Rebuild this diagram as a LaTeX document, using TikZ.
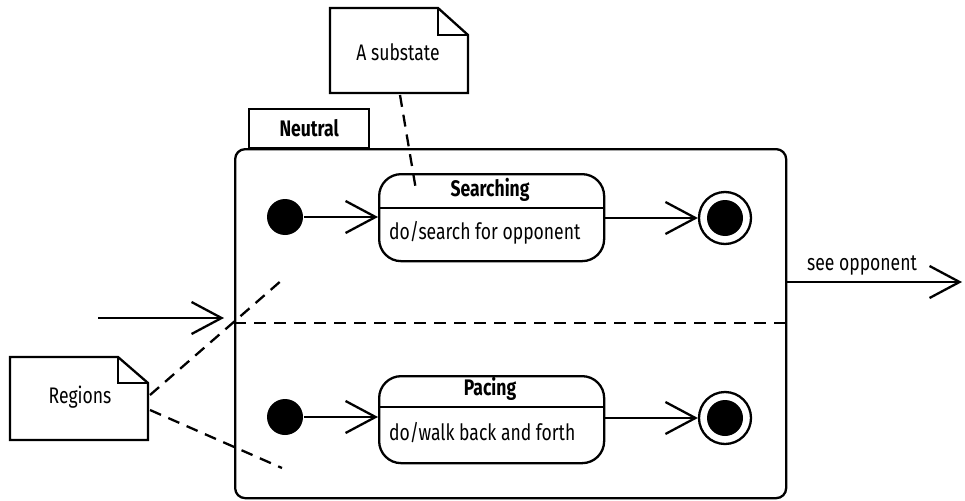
\documentclass[tikz,border=0pt]{standalone}
\usepackage{fontspec}
\setmainfont{Fira Sans}[FakeStretch=0.78]
\usetikzlibrary{arrows.meta}
\begin{document}
\begin{tikzpicture}[x=1pt,y=-1pt,
  line width=2.3pt,
  lbl/.style={inner sep=0pt, font=\fontsize{22.5}{24}\selectfont},
  blbl/.style={inner sep=0pt, font=\fontsize{22.5}{24}\selectfont\bfseries},
  stbox/.style={draw, rounded corners=22pt, minimum width=225pt, minimum height=87pt, inner sep=0pt},
  initst/.style={circle, fill, minimum size=36pt, inner sep=0pt},
  finst/.style={circle, draw, minimum size=52pt, inner sep=0pt},
  finin/.style={circle, fill, minimum size=36pt, inner sep=0pt},
  opentip/.style={-{Straight Barb[length=30pt,width=32pt,line width=2.3pt]}},
  dsh/.style={dash pattern=on 12pt off 8pt},
  notebox/.style={draw, line join=miter}
]
\useasboundingbox (0,0) rectangle (965,500);
% Neutral tab and main box
\node[draw, minimum width=120pt, minimum height=39pt, inner sep=0pt, anchor=north west, blbl] (tab) at (248,108) {Neutral};
\node[draw, rounded corners=10pt, minimum width=551pt, minimum height=349pt, inner sep=0pt, anchor=north west] (neutral) at (234,148) {};
\coordinate (divL) at (234,323);
\coordinate (divR) at (785,323);
\draw[dsh] (divL) -- (divR);

% Searching region
\node[stbox, anchor=north west] (search) at (378,173) {};
\draw (search.west |- 0,208) coordinate (sL) -- (search.east |- 0,208) coordinate (sR);
\node[blbl] (searchT) at (490,190) {Searching};
\node[lbl, anchor=west] (searchD) at (388,233) {do/search for opponent};
\node[initst] (i1) at (285,217) {};
\node[finst] (f1) at (725,218) {};
\node[finin] (f1i) at (f1) {};
\draw[opentip] (i1) -- (search.west |- i1);
\draw[opentip] (search.east |- f1) -- (f1.west);

% Pacing region
\node[stbox, anchor=north west] (pacing) at (378,375) {};
\draw (pacing.west |- 0,407) coordinate (pL) -- (pacing.east |- 0,407) coordinate (pR);
\node[blbl] (pacingT) at (490,389) {Pacing};
\node[lbl, anchor=west] (pacingD) at (388,433) {do/walk back and forth};
\node[initst] (i2) at (285,417) {};
\node[finst] (f2) at (725,418) {};
\node[finin] (f2i) at (f2) {};
\draw[opentip] (i2) -- (pacing.west |- i2);
\draw[opentip] (pacing.east |- f2) -- (f2.west);

% incoming and outgoing transitions
\coordinate (inStart) at (98,318);
\coordinate (inEnd) at (224,318);
\draw[opentip] (inStart) -- (inEnd);
\coordinate (outStart) at (785,282);
\coordinate (outEnd) at (962,282);
\draw[opentip] (outStart) -- (outEnd);
\node[lbl, anchor=south] (see) at (862,276) {see opponent};

% Note: A substate
\draw[notebox] (330,8) -- (438,8) -- (468,35) -- (468,93) -- (330,93) -- cycle;
\draw[notebox] (438,8) -- (438,35) -- (468,35);
\node[lbl] (noteA) at (398,52) {A substate};
\coordinate (noteAb) at (400,95);
\coordinate (noteAe) at (416,190);
\draw[dsh] (noteAb) -- (noteAe);

% Note: Regions
\draw[notebox] (10,357) -- (118,357) -- (148,383) -- (148,440) -- (10,440) -- cycle;
\draw[notebox] (118,357) -- (118,383) -- (148,383);
\node[lbl] (noteR) at (80,397) {Regions};
\coordinate (r1s) at (150,395);
\coordinate (r1e) at (282,280);
\coordinate (r2s) at (150,410);
\coordinate (r2e) at (282,468);
\draw[dsh] (r1s) -- (r1e);
\draw[dsh] (r2s) -- (r2e);
\end{tikzpicture}
\end{document}
